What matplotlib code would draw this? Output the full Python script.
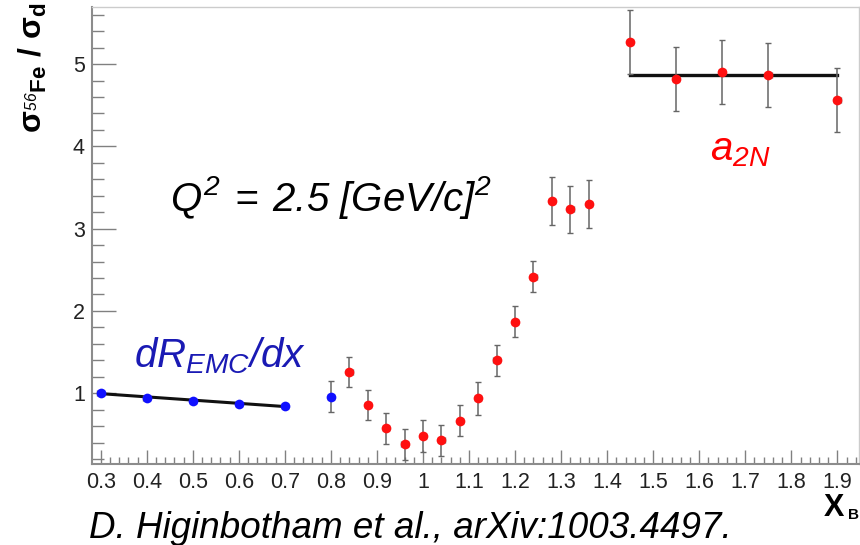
import numpy as np
import matplotlib
matplotlib.use("Agg")
import matplotlib.pyplot as plt
from matplotlib.ticker import MultipleLocator, FixedLocator

plt.rcParams['font.family'] = ['Liberation Sans', 'DejaVu Sans']
plt.rcParams['mathtext.fontset'] = 'custom'
plt.rcParams['mathtext.rm'] = 'Liberation Sans:italic'
plt.rcParams['mathtext.it'] = 'Liberation Sans:italic'
plt.rcParams['mathtext.bf'] = 'Liberation Sans:bold'

# EMC region points (blue)
x_emc = [0.3, 0.4, 0.5, 0.6, 0.7, 0.8]
y_emc = [1.00, 0.947, 0.903, 0.87, 0.846, 0.96]
yerr_emc = [0.01, 0.01, 0.01, 0.01, 0.01, 0.186]

# 56Fe / d ratio points (red)
x_fe = [0.84, 0.88, 0.92, 0.96, 1.00, 1.04, 1.08, 1.12, 1.16, 1.20, 1.24,
        1.28, 1.32, 1.36, 1.45, 1.55, 1.65, 1.75, 1.90]
y_fe = [1.255, 0.854, 0.575, 0.38, 0.479, 0.428, 0.667, 0.937, 1.40, 1.87, 2.417,
        3.337, 3.233, 3.30, 5.27, 4.82, 4.90, 4.87, 4.56]
yerr_fe = [0.185, 0.185, 0.19, 0.19, 0.19, 0.19, 0.19, 0.20, 0.19, 0.19, 0.19,
           0.29, 0.29, 0.29, 0.385, 0.385, 0.39, 0.39, 0.39]
xerr = 0.007

# fit lines
fit_emc_x = [0.3, 0.7]
fit_emc_y = [0.995, 0.838]
fit_a2n_x = [1.45, 1.9]
fit_a2n_y = [4.87, 4.87]

xticks = [0.3, 0.4, 0.5, 0.6, 0.7, 0.8, 0.9, 1.0, 1.1, 1.2, 1.3, 1.4, 1.5, 1.6, 1.7, 1.8, 1.9]
xticklabels = ['0.3', '0.4', '0.5', '0.6', '0.7', '0.8', '0.9', '1', '1.1', '1.2',
               '1.3', '1.4', '1.5', '1.6', '1.7', '1.8', '1.9']
yticks = [1, 2, 3, 4, 5]

W, H = 860, 545
fig = plt.figure(figsize=(W / 100, H / 100), dpi=100)
ax = fig.add_axes([91.7 / W, 81 / H, (859 - 91.7) / W, (464 - 7.3) / H])

ax.plot(fit_emc_x, fit_emc_y, color='#111111', lw=2.2, zorder=2)
ax.plot(fit_a2n_x, fit_a2n_y, color='#111111', lw=2.4, zorder=2)

ax.errorbar(x_emc, y_emc, yerr=yerr_emc, xerr=xerr, fmt='none', ecolor='#666666',
            elinewidth=1.1, capsize=2, capthick=1, zorder=3)
ax.errorbar(x_fe, y_fe, yerr=yerr_fe, xerr=xerr, fmt='none', ecolor='#666666',
            elinewidth=1.1, capsize=2, capthick=1, zorder=3)
ax.plot(x_emc, y_emc, 'o', color='#1010ff', ms=7, mec='none', zorder=4)
ax.plot(x_fe, y_fe, 'o', color='#ff1010', ms=7, mec='none', zorder=4)

ax.set_xlim(0.2805, 1.947)
ax.set_ylim(0.14, 5.69)
ax.xaxis.set_major_locator(FixedLocator(xticks))
ax.set_xticklabels(xticklabels)
ax.xaxis.set_minor_locator(MultipleLocator(0.02))
ax.yaxis.set_major_locator(FixedLocator(yticks))
ax.yaxis.set_minor_locator(MultipleLocator(0.2))

ax.tick_params(axis='both', which='both', direction='in', colors='#808080',
               labelcolor='#222222', labelsize=15.5, width=1)
ax.tick_params(axis='x', which='major', length=10, pad=6)
ax.tick_params(axis='x', which='minor', length=5)
ax.tick_params(axis='y', which='major', length=17, pad=5)
ax.tick_params(axis='y', which='minor', length=8.5)

for side in ['left', 'bottom']:
    ax.spines[side].set_color('#8c8c8c')
    ax.spines[side].set_linewidth(1.5)
for side in ['top', 'right']:
    ax.spines[side].set_color('#cccccc')
    ax.spines[side].set_linewidth(1)

def px(x, y):
    return x / W, 1 - y / H

fig.text(*px(170, 211), r'$Q^2\:=\:2.5\ [GeV/c]^2$', fontsize=29, color='black',
         ha='left', va='baseline')
fig.text(*px(710, 150), r'$a_{2N}$', fontsize=29, color='#ff0000', ha='left', va='center')
fig.text(*px(134, 356), r'$dR_{EMC}/dx$', fontsize=29, color='#1a1ab4', ha='left', va='center')
fig.text(*px(89, 538), 'D. Higinbotham et al., arXiv:1003.4497.', fontsize=26.5,
         fontstyle='italic', color='black', ha='left', va='baseline')
fig.text(*px(824, 516), 'X', fontsize=22, fontweight='bold', color='black', ha='left', va='baseline')
fig.text(*px(848, 519), 'B', fontsize=11, fontweight='bold', color='black', ha='left', va='baseline')
fig.text(*px(33, 133), r'$\mathbf{\sigma}_{{}^{56}\mathbf{Fe}}\ \mathbf{/}\ \mathbf{\sigma}_{\mathbf{d}}$',
         fontsize=23, rotation=90, color='black', ha='center', va='bottom')

fig.savefig('out.png', dpi=100)
